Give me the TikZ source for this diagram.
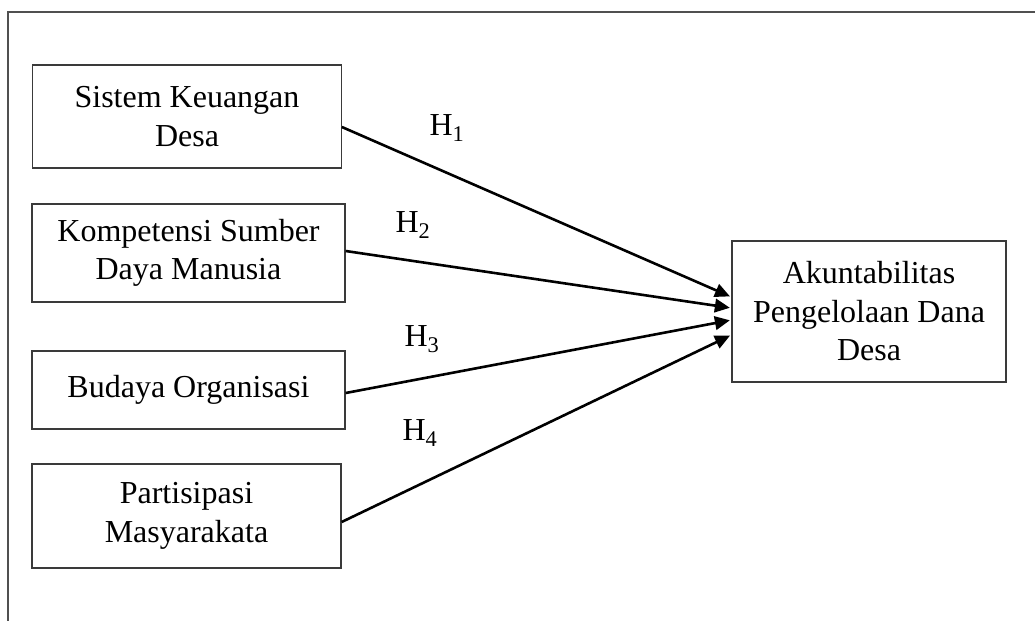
\documentclass[tikz,border=0pt]{standalone}
\usepackage{fontspec}
\setmainfont{Liberation Serif}
\usetikzlibrary{arrows.meta,calc}
\definecolor{boxgray}{HTML}{3A3A3A}
\definecolor{framegray}{HTML}{505050}
\begin{document}
\begin{tikzpicture}[x=1pt,y=-1pt,
  varbox/.style={draw=boxgray,line width=1.3pt,inner sep=0pt,align=center,
    font=\fontsize{32}{38.5}\selectfont},
  link/.style={line width=2.6pt,-{Triangle[length=15pt,width=13.5pt]},shorten >=1.5pt},
  hlabel/.style={font=\fontsize{32}{38}\selectfont,inner sep=0pt}]
\useasboundingbox (0,0) rectangle (1035,621);
% outer frame (only top and left visible)
\coordinate (ftr) at (1035,12);
\coordinate (ftl) at (8,12);
\coordinate (fbl) at (8,621);
\draw[framegray,line width=1.4pt] (ftr) -- (ftl) -- (fbl);
% boxes
\node[varbox,minimum width=308.5pt,minimum height=103pt] (b1) at (187,116.5) {Sistem Keuangan\\Desa};
\node[varbox,minimum width=313pt,minimum height=98pt] (b2) at (188.5,253) {Kompetensi Sumber\\Daya Manusia};
\node[varbox,minimum width=313pt,minimum height=78pt] (b3) at (188.5,390) {\raisebox{8pt}{Budaya Organisasi}};
\node[varbox,minimum width=309pt,minimum height=104pt] (b4) at (186.5,516) {Partisipasi\\Masyarakata};
\node[varbox,minimum width=274pt,minimum height=141pt] (r) at (869,311.5) {Akuntabilitas\\Pengelolaan Dana\\Desa};
% connectors
\draw[link] ($(b1.east)+(0,10.5)$) -- ($(r.west)+(0,-14.5)$);
\draw[link] ($(b2.east)+(0,-2)$) -- ($(r.west)+(0,-3.5)$);
\draw[link] ($(b3.east)+(0,3)$) -- ($(r.west)+(0,8.5)$);
\draw[link] ($(b4.east)+(0,6)$) -- ($(r.west)+(0,23.5)$);
% labels
\node[hlabel] (h1) at (447,128) {H\textsubscript{1}};
\node[hlabel] (h2) at (413,225) {H\textsubscript{2}};
\node[hlabel] (h3) at (422,339) {H\textsubscript{3}};
\node[hlabel] (h4) at (420,433) {H\textsubscript{4}};
\end{tikzpicture}
\end{document}
